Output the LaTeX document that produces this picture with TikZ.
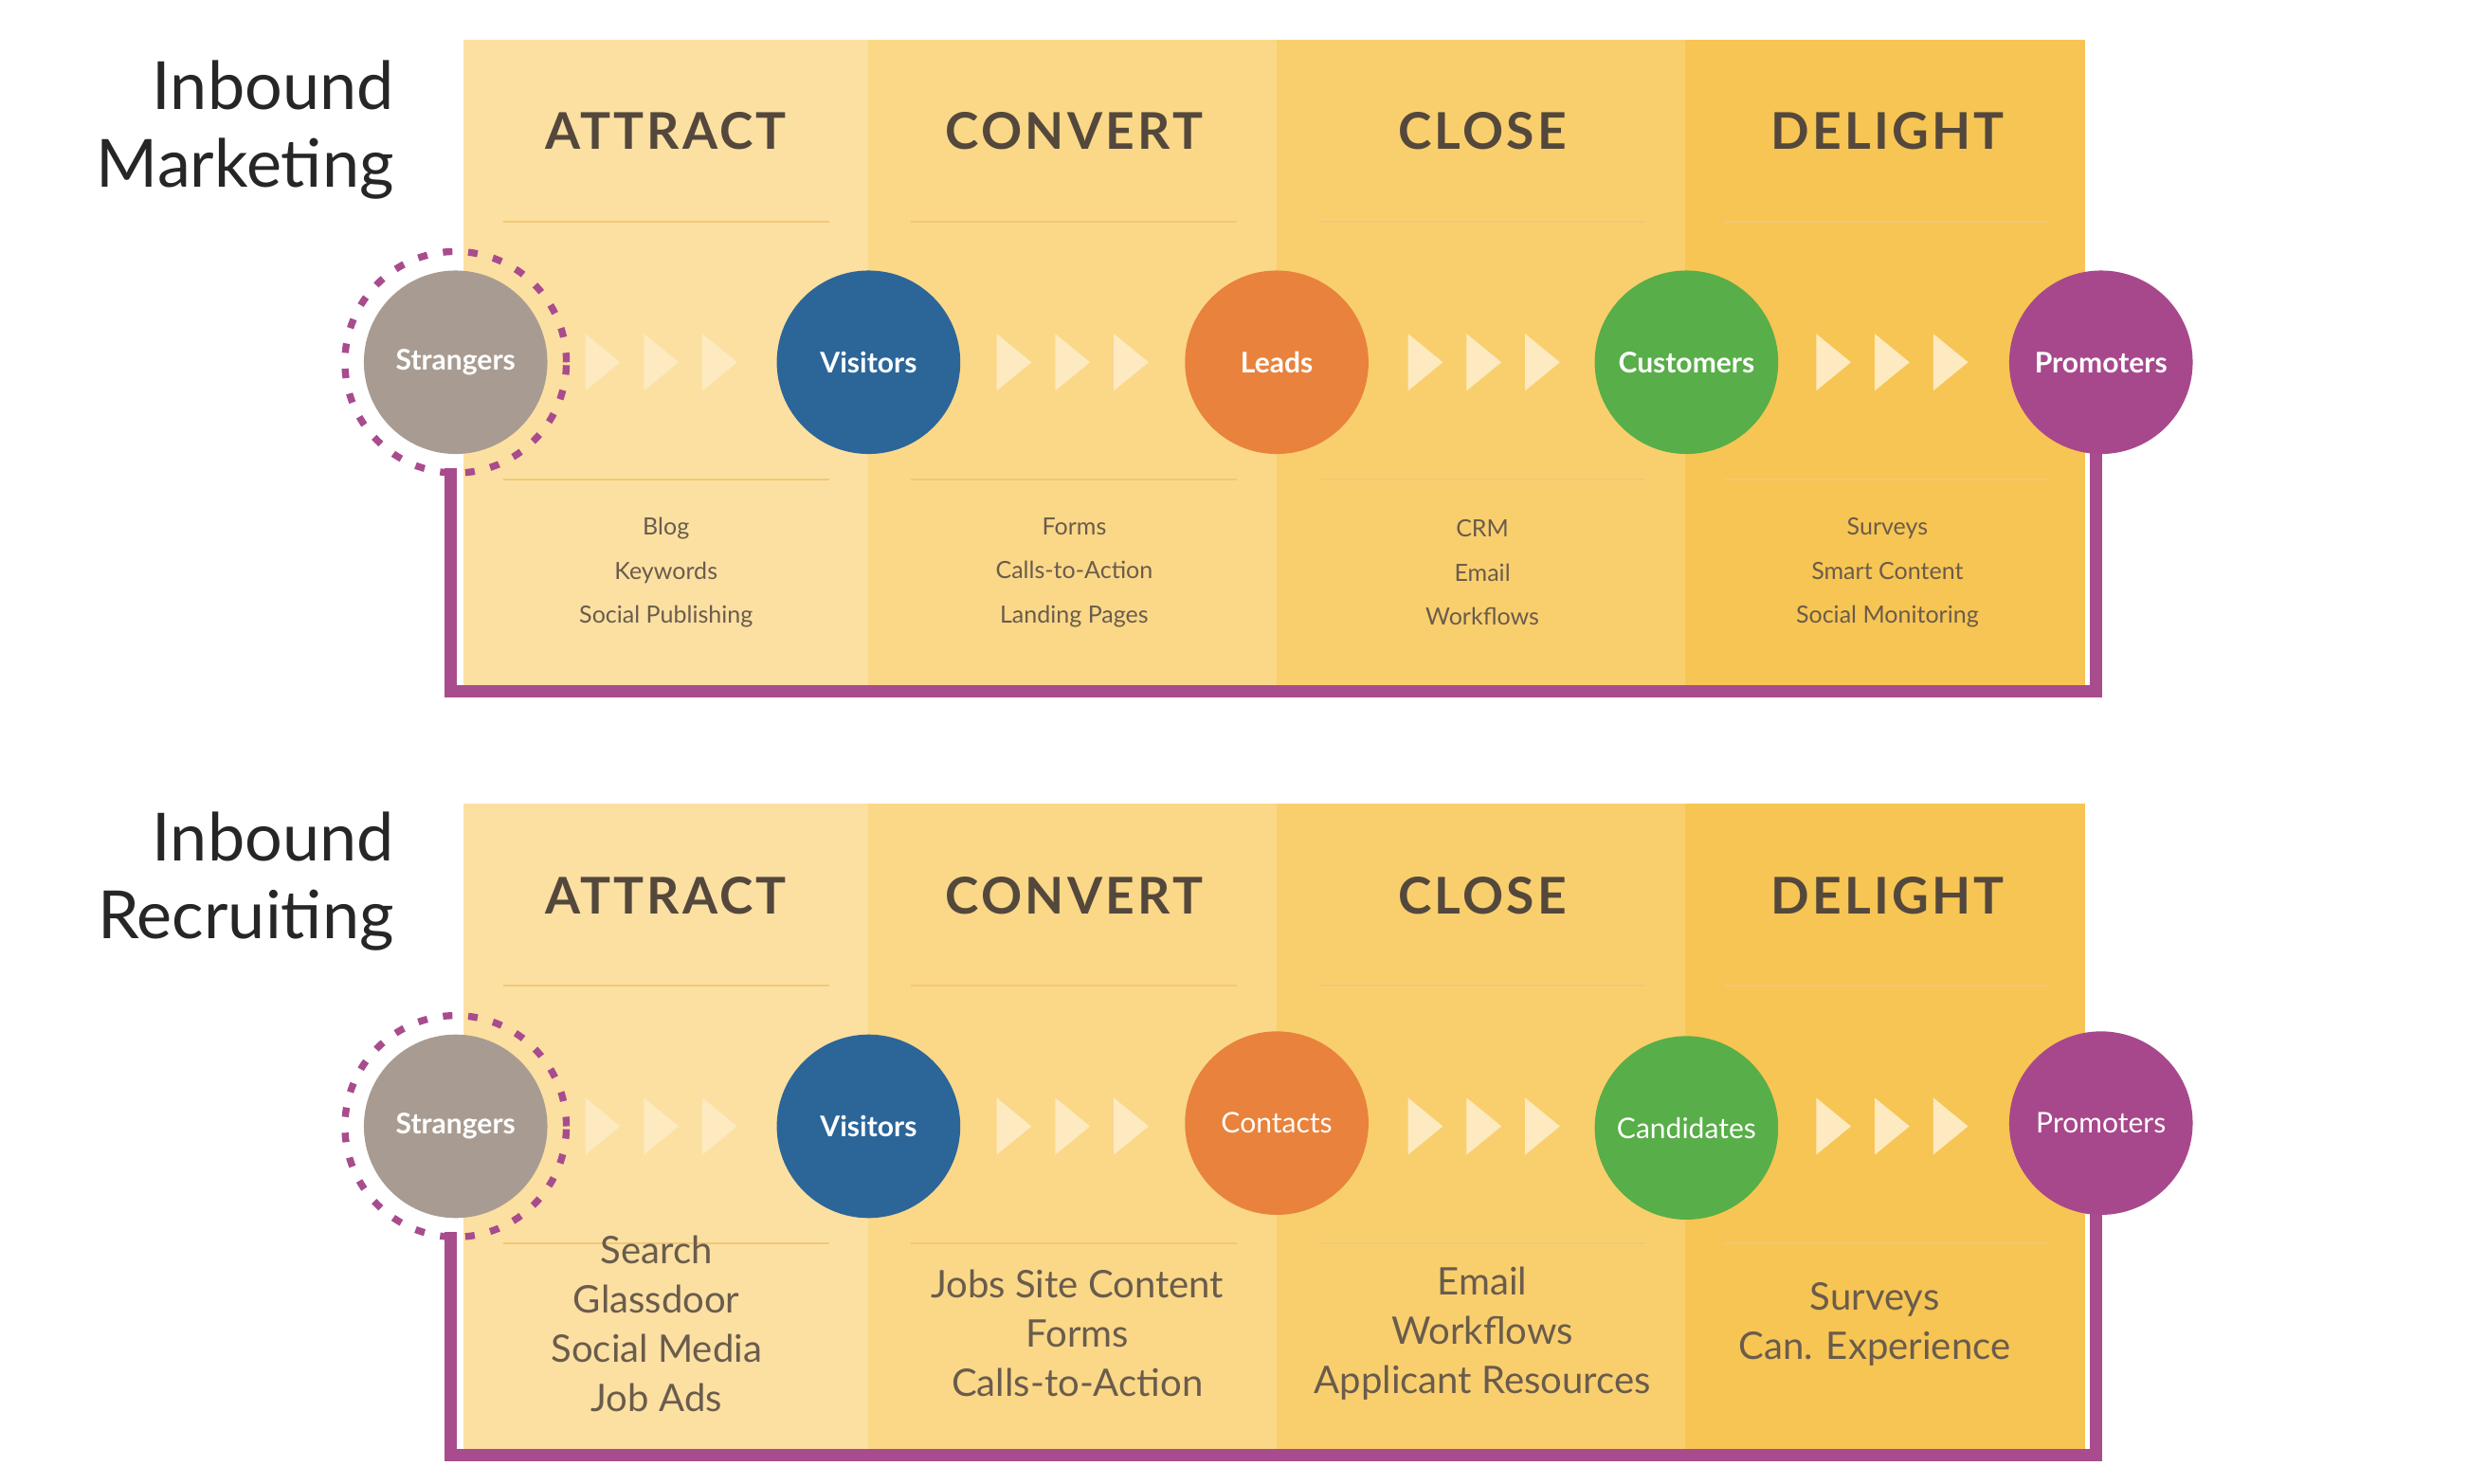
\documentclass[tikz,border=0pt]{standalone}
\usepackage{fontspec}
\setmainfont{Lato}
\begin{document}
\begin{tikzpicture}[x=0.5pt,y=-0.5pt,
  head/.style={font=\fontsize{16}{18}\selectfont\bfseries\addfontfeature{LetterSpace=6}, text=hd},
  circ/.style={circle, minimum size=58pt, inner sep=0pt, text=white, font=\fontsize{9}{10}\selectfont\bfseries},
  items/.style={align=center, text=it, font=\fontsize{7.5}{14}\selectfont},
  bitems/.style={align=center, text=it, font=\fontsize{12}{15.6}\selectfont},
  title/.style={align=right, anchor=east, font=\fontsize{21}{24.5}\selectfont, text=black!85},
  chev/.style={fill=chv},
  sep/.style={draw=sp, line width=0.6pt},
  loopline/.style={draw=pu, line width=4pt}]
\definecolor{ca}{HTML}{FCE0A2}
\definecolor{cb}{HTML}{FAD888}
\definecolor{cc}{HTML}{F9CF6E}
\definecolor{cd}{HTML}{F7C553}
\definecolor{hd}{HTML}{54483C}
\definecolor{it}{HTML}{6A5C4C}
\definecolor{chv}{HTML}{FDEAC0}
\definecolor{sp}{HTML}{F0C878}
\definecolor{pu}{HTML}{A84C8E}
\definecolor{cgray}{HTML}{A89C92}
\definecolor{cblue}{HTML}{2C6699}
\definecolor{corange}{HTML}{E9823C}
\definecolor{cgreen}{HTML}{58AE48}
\definecolor{cpurple}{HTML}{A8488C}
\useasboundingbox (0,0) rectangle (1560,938);
\fill[white] (0,0) rectangle (1560,938);
\foreach \dy/\p in {0/t,483/b}{
\begin{scope}[yshift=-\dy*0.5pt]
  \fill[ca] (293,25) rectangle (549,433);
  \fill[cb] (549,25) rectangle (807,433);
  \fill[cc] (807,25) rectangle (1065,433);
  \fill[cd] (1065,25) rectangle (1318,433);
  \foreach \cx in {421,679,937,1193}{
    \draw[sep] (\cx-103,140) -- (\cx+103,140);
    \draw[sep] (\cx-103,303) -- (\cx+103,303);
  }
  \node[head] (\p h1) at (421,83) {ATTRACT};
  \node[head] (\p h2) at (679,83) {CONVERT};
  \node[head] (\p h3) at (937,83) {CLOSE};
  \node[head] (\p h4) at (1193,83) {DELIGHT};
  \foreach \sx in {380,640,900,1158}{
    \foreach \k in {0,37,74}{
      \fill[chv] (\sx+\k-10,211) -- (\sx+\k+12,229) -- (\sx+\k-10,247) -- cycle;
    }
  }
  \node[circle, minimum size=70pt, draw=pu, line width=2.2pt, dash pattern=on 3pt off 5pt] (\p ring) at (288,229) {};
  \coordinate (\p c1) at (285,296);
  \coordinate (\p c2) at (285,437);
  \coordinate (\p c3) at (1325,437);
  \coordinate (\p c4) at (1325,280);
  \draw[loopline] (\p c1) -- (\p c2) -- (\p c3) -- (\p c4);
\end{scope}
}
% top circles
\node[circ, fill=cgray] (s1) at (288,229) {Strangers};
\node[circ, fill=cblue] (v1) at (549,229) {Visitors};
\node[circ, fill=corange] (l1) at (807,229) {Leads};
\node[circ, fill=cgreen] (k1) at (1066,229) {Customers};
\node[circ, fill=cpurple] (p1) at (1328,229) {Promoters};
% bottom circles
\node[circ, fill=cgray] (s2) at (288,712) {Strangers};
\node[circ, fill=cblue] (v2) at (549,712) {Visitors};
\node[circ, fill=corange, font=\fontsize{9}{10}\selectfont] (l2) at (807,710) {Contacts};
\node[circ, fill=cgreen, font=\fontsize{9}{10}\selectfont] (k2) at (1066,713) {Candidates};
\node[circ, fill=cpurple, font=\fontsize{9}{10}\selectfont] (p2) at (1328,710) {Promoters};
% titles
\node[title] (t1) at (256,82) {Inbound\\Marketing};
\node[title] (t2) at (256,557) {Inbound\\Recruiting};
% top items
\node[items] (i1) at (421,362) {Blog\\Keywords\\Social Publishing};
\node[items] (i2) at (679,362) {Forms\\Calls-to-Action\\Landing Pages};
\node[items] (i3) at (937,362) {CRM\\Email\\Workflows};
\node[items] (i4) at (1193,362) {Surveys\\Smart Content\\Social Monitoring};
% bottom items
\node[bitems] (j1) at (415,837) {Search\\Glassdoor\\Social Media\\Job Ads};
\node[bitems] (j2) at (681,843) {Jobs Site Content\\Forms\\Calls-to-Action};
\node[bitems] (j3) at (937,843) {Email\\Workflows\\Applicant Resources};
\node[bitems] (j4) at (1185,837) {Surveys\\Can. Experience};
\end{tikzpicture}
\end{document}
